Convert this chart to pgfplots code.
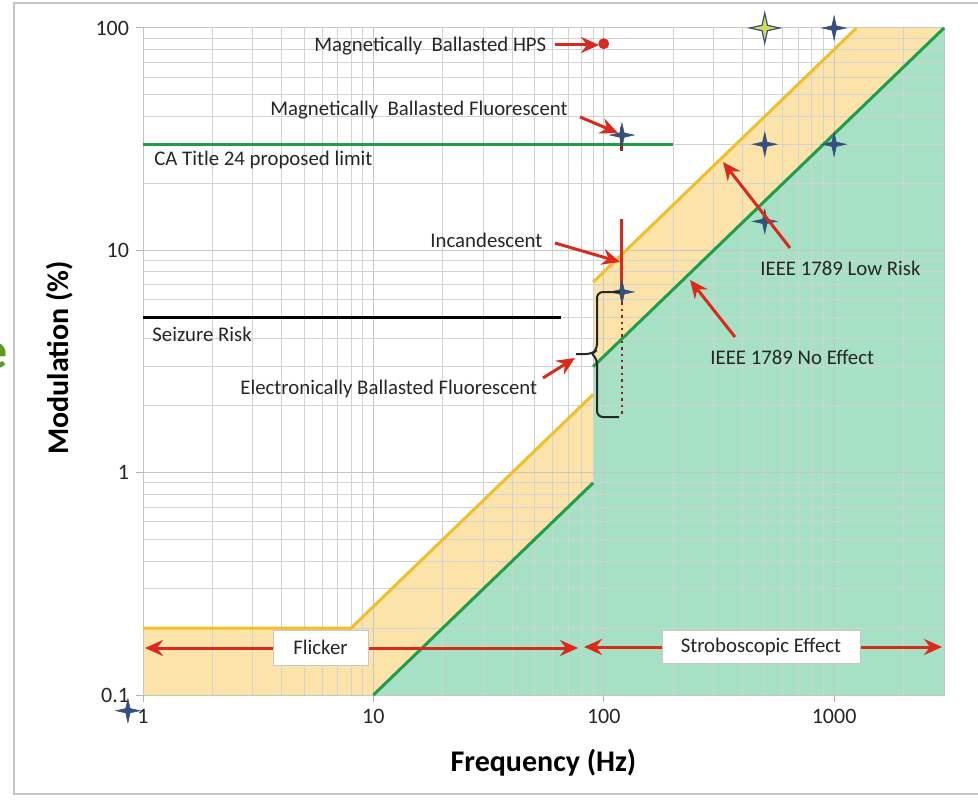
\documentclass[border=0pt]{standalone}
\usepackage{pgfplots}
\pgfplotsset{compat=1.18}
\usepackage{fontspec}
\setmainfont{Carlito}
\usetikzlibrary{arrows.meta}

\definecolor{yfill}{HTML}{FCE3AA}
\definecolor{gfill}{HTML}{A6E1C5}
\definecolor{yline}{HTML}{F0BF2A}
\definecolor{gline}{HTML}{1E9E4A}
\definecolor{redc}{HTML}{DA2A1E}
\definecolor{darkred}{HTML}{9A1E1E}
\definecolor{starblue}{HTML}{34507E}
\definecolor{ystar}{HTML}{D6DD5A}
\definecolor{egreen}{HTML}{5A9B2A}

\pgfdeclareplotmark{fourstar}{%
 \pgfpathmoveto{\pgfqpoint{0pt}{\pgfplotmarksize}}%
 \pgfpathlineto{\pgfqpoint{0.18\pgfplotmarksize}{0.18\pgfplotmarksize}}%
 \pgfpathlineto{\pgfqpoint{\pgfplotmarksize}{0pt}}%
 \pgfpathlineto{\pgfqpoint{0.18\pgfplotmarksize}{-0.18\pgfplotmarksize}}%
 \pgfpathlineto{\pgfqpoint{0pt}{-\pgfplotmarksize}}%
 \pgfpathlineto{\pgfqpoint{-0.18\pgfplotmarksize}{-0.18\pgfplotmarksize}}%
 \pgfpathlineto{\pgfqpoint{-\pgfplotmarksize}{0pt}}%
 \pgfpathlineto{\pgfqpoint{-0.18\pgfplotmarksize}{0.18\pgfplotmarksize}}%
 \pgfpathclose
 \pgfusepathqfillstroke}

\begin{document}
\begin{tikzpicture}
\begin{scope}[x=0.5pt,y=-0.5pt]
\draw[gray!45, line width=0.8pt] (14,3) rectangle (990,794);
\node[anchor=east, inner sep=0, font=\fontsize{26}{28}\selectfont\bfseries, text=egreen] at (8,356) {e};
\end{scope}
\begin{axis}[
  at={(71.5pt,-347.5pt)}, anchor=south west,
  scale only axis, width=400.5pt, height=333.5pt,
  xmode=log, ymode=log,
  xmin=1, xmax=3000, ymin=0.1, ymax=100,
  xtick={1,10,100,1000}, xticklabels={1,10,100,1000},
  ytick={0.1,1,10,100}, yticklabels={0.1,1,10,100},
  minor xtick={2,3,4,5,6,7,8,9,20,30,40,50,60,70,80,90,200,300,400,500,600,700,800,900,2000,3000},
  minor ytick={0.2,0.3,0.4,0.5,0.6,0.7,0.8,0.9,2,3,4,5,6,7,8,9,20,30,40,50,60,70,80,90},
  grid=both,
  major grid style={draw=gray!45, line width=0.5pt},
  minor grid style={draw=gray!35, line width=0.5pt},
  axis line style={draw=gray!45, line width=0.5pt},
  tick align=outside, xtick pos=left, ytick pos=left,
  major tick length=3.5pt, minor tick length=0pt,
  tick style={draw=gray!60, line width=0.5pt},
  ticklabel style={font=\fontsize{11}{13}\selectfont, text=black!85},
  /pgf/number format/assume math mode=true,
  xlabel={Frequency (Hz)}, ylabel={Modulation (\%)},
  xlabel style={font=\fontsize{15}{17}\selectfont\bfseries, at={(axis description cs:0.5,-0.102)}, anchor=center},
  ylabel style={font=\fontsize{15}{17}\selectfont\bfseries, at={(axis description cs:-0.104,0.505)}, anchor=center},
  clip=false, set layers,
]
% shaded regions
\addplot[fill=yfill, draw=none, on layer=axis background] coordinates {(1,0.1) (1,0.2) (8,0.2) (90,2.25) (90,7.2) (1250,100) (3000,100) (3000,0.1)} -- cycle;
\addplot[fill=gfill, draw=none, on layer=axis background] coordinates {(10,0.1) (90,0.9) (90,3) (3000,100) (3000,0.1)} -- cycle;
% IEEE 1789 low risk
\addplot[yline, line width=1.5pt] coordinates {(1,0.2) (8,0.2) (90,2.25)};
\addplot[yline, line width=1.5pt] coordinates {(90,7.2) (1250,100)};
% IEEE 1789 no effect
\addplot[gline, line width=1.5pt] coordinates {(10,0.1) (90,0.9)};
\addplot[gline, line width=1.5pt] coordinates {(90,3) (3000,100)};
% CA Title 24 and seizure risk
\addplot[gline, line width=1.5pt] coordinates {(1,30) (200,30)};
\addplot[black, line width=1.5pt] coordinates {(1,5) (65,5)};
% incandescent and magnetic fluorescent ranges
\addplot[redc, line width=1.5pt] coordinates {(120,6.5) (120,13.8)};
\addplot[darkred, line width=1.5pt] coordinates {(120,28) (120,36)};
% measured points
\addplot[only marks, mark=fourstar, mark size=6pt, mark options={fill=starblue, draw=starblue, line width=0.3pt}] coordinates {(120,33) (120,6.5) (1000,100) (500,30) (1000,30) (500,13.5) (0.86,0.085)};
\addplot[only marks, mark=fourstar, mark size=7.5pt, mark options={fill=ystar, draw=starblue, line width=0.6pt}] coordinates {(500,100)};
\addplot[only marks, mark=*, mark size=2.5pt, redc] coordinates {(100,85)};
\end{axis}
\begin{scope}[x=0.5pt,y=-0.5pt,
  ann/.style={inner sep=0, font=\fontsize{10.4}{12}\selectfont, text=black!85},
  rarr/.style={draw=redc, line width=1.5pt, -{Stealth[length=9pt, width=8pt, inset=3pt]}}]
% brace and dotted line
\draw[darkred, line width=1.2pt, dotted] (622,296) -- (622,417);
\draw[black!85, line width=1pt, rounded corners=3pt] (620,292) -- (597,292) -- (597,350) -- (592,354) -- (576,354);
\draw[black!85, line width=1pt, rounded corners=3pt] (592,354) -- (597,358) -- (597,417) -- (619,417);
% texts
\node[ann, anchor=west] at (314,46) {Magnetically\ \ Ballasted HPS};
\node[ann, anchor=west] at (270,110) {Magnetically\ \ Ballasted Fluorescent};
\node[ann, anchor=west] at (154,160) {CA Title 24 proposed limit};
\node[ann, anchor=west] at (430,240) {Incandescent};
\node[ann, anchor=west] at (152,334) {Seizure Risk};
\node[ann, anchor=west] at (240,389) {Electronically Ballasted Fluorescent};
\node[ann, anchor=west] at (760,268) {IEEE 1789 Low Risk};
\node[ann, anchor=west] at (710,357) {IEEE 1789 No Effect};
% arrows
\draw[rarr] (555,45) -- (599,45);
\draw[rarr] (580,117) -- (618,133);
\draw[rarr] (555,243) -- (620,262);
\draw[rarr] (543,378) -- (575,358);
\draw[rarr] (790,248) -- (723,162);
\draw[rarr] (735,337) -- (690,280);
% flicker / stroboscopic
\draw[draw=redc, line width=1.5pt, {Stealth[length=9pt, width=8pt, inset=3pt]}-{Stealth[length=9pt, width=8pt, inset=3pt]}] (145,648) -- (578,648);
\draw[draw=redc, line width=1.5pt, {Stealth[length=9pt, width=8pt, inset=3pt]}-{Stealth[length=9pt, width=8pt, inset=3pt]}] (584,647) -- (942,647);
\node[draw=gray!45, fill=white, line width=0.5pt, minimum width=47.5pt, minimum height=17.5pt, inner sep=0, font=\fontsize{10.4}{12}\selectfont, text=black!85] at (320.5,647.5) {Flicker};
\node[draw=gray!45, fill=white, line width=0.5pt, minimum width=99pt, minimum height=16.5pt, inner sep=0, font=\fontsize{10.4}{12}\selectfont, text=black!85] at (761,646.5) {Stroboscopic Effect};
\end{scope}
\pgfresetboundingbox
\path[use as bounding box] (0,0) rectangle (489pt,-401pt);
\end{tikzpicture}
\end{document}
